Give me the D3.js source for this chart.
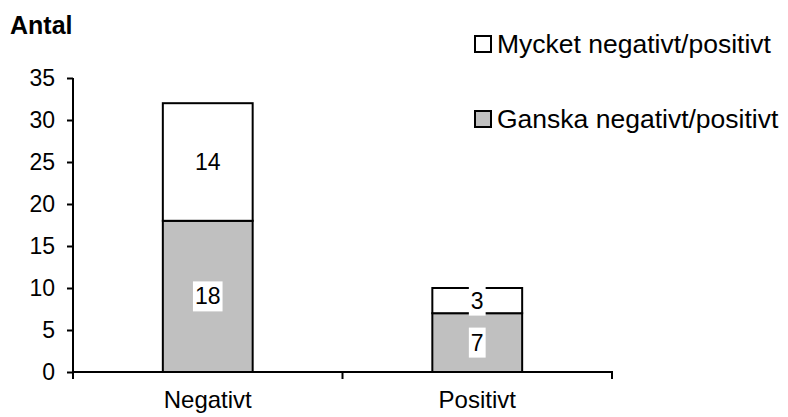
<!DOCTYPE html>
<html>
<head>
<meta charset="utf-8">
<script src="https://cdn.jsdelivr.net/npm/d3@7"></script>
<style>
  body { margin: 0; background: #fff; }
  text { font-family: "Liberation Sans", Arial, sans-serif; fill: #000; }
</style>
</head>
<body>
<div id="chart"></div>
<script>
// data
const categories = ["Negativt", "Positivt"];
const ganska = [18, 7];   // Ganska negativt/positivt
const mycket = [14, 3];   // Mycket negativt/positivt
const seriesNames = ["Mycket negativt/positivt", "Ganska negativt/positivt"];
const yTicks = [0, 5, 10, 15, 20, 25, 30, 35];

const W = 788, H = 417;
const fontSize = 23;

const svg = d3.select("#chart")
  .append("svg")
  .attr("width", W)
  .attr("height", H);

const x = d3.scaleBand()
  .domain(categories)
  .range([73, 612])
  .padding(0);

const y = d3.scaleLinear()
  .domain([0, 35])
  .range([372, 78]);

const bw = x.bandwidth() / 3;

// stacked bars
const rows = categories.map((c, i) => ({ cat: c, g: ganska[i], m: mycket[i] }));

const bars = svg.append("g");
rows.forEach(d => {
  const bx = x(d.cat) + x.bandwidth() / 2 - bw / 2;
  // lower segment
  bars.append("rect")
    .attr("x", bx)
    .attr("y", y(d.g))
    .attr("width", bw)
    .attr("height", y(0) - y(d.g))
    .attr("fill", "#c0c0c0")
    .attr("stroke", "#000")
    .attr("stroke-width", 2);
  // upper segment
  bars.append("rect")
    .attr("x", bx)
    .attr("y", y(d.g + d.m))
    .attr("width", bw)
    .attr("height", y(d.g) - y(d.g + d.m))
    .attr("fill", "#fff")
    .attr("stroke", "#000")
    .attr("stroke-width", 2);
});

// value labels with white boxes
function label(cx, cy, txt) {
  const g = svg.append("g");
  const t = g.append("text")
    .attr("x", cx)
    .attr("y", cy)
    .attr("text-anchor", "middle")
    .attr("dominant-baseline", "central")
    .style("font-size", fontSize + "px")
    .text(txt);
  const b = t.node().getBBox();
  g.insert("rect", "text")
    .attr("x", b.x - 2)
    .attr("y", cy - 15)
    .attr("width", b.width + 4)
    .attr("height", 30)
    .attr("fill", "#fff");
}
rows.forEach(d => {
  const cx = x(d.cat) + x.bandwidth() / 2;
  label(cx, (y(0) + y(d.g)) / 2, d.g);
  label(cx, (y(d.g) + y(d.g + d.m)) / 2, d.m);
});

// y axis
const yAxis = svg.append("g")
  .attr("transform", "translate(73,0)")
  .call(d3.axisLeft(y).tickValues(yTicks).tickSize(6).tickPadding(12));
yAxis.select(".domain").attr("stroke-width", 2).attr("d", `M0,${y(35)}V${y(0)}`);
yAxis.selectAll(".tick line").attr("stroke-width", 2);
yAxis.selectAll(".tick text")
  .style("font-size", fontSize + "px")
  .style("font-family", "Liberation Sans, Arial, sans-serif");

// x axis
const xAxis = svg.append("g");
xAxis.append("line")
  .attr("x1", 72).attr("x2", 613)
  .attr("y1", y(0)).attr("y2", y(0))
  .attr("stroke", "#000").attr("stroke-width", 2);
const edges = categories.map(c => x(c)).concat([x(categories[categories.length - 1]) + x.bandwidth()]);
xAxis.selectAll(".xt")
  .data(edges)
  .enter()
  .append("line")
  .attr("x1", d => d).attr("x2", d => d)
  .attr("y1", y(0)).attr("y2", y(0) + 7)
  .attr("stroke", "#000").attr("stroke-width", 2);
xAxis.selectAll(".xl")
  .data(categories)
  .enter()
  .append("text")
  .attr("x", d => x(d) + x.bandwidth() / 2)
  .attr("y", 408)
  .attr("text-anchor", "middle")
  .style("font-size", "24px")
  .text(d => d);

// axis title
svg.append("text")
  .attr("x", 10)
  .attr("y", 34)
  .style("font-size", "25px")
  .style("font-weight", "bold")
  .text("Antal");

// legend
const legendY = [44, 119];
const legendFill = ["#fff", "#c0c0c0"];
seriesNames.forEach((s, i) => {
  svg.append("rect")
    .attr("x", 475)
    .attr("y", legendY[i] - 8)
    .attr("width", 16)
    .attr("height", 16)
    .attr("fill", legendFill[i])
    .attr("stroke", "#000")
    .attr("stroke-width", 2);
  svg.append("text")
    .attr("x", 497)
    .attr("y", legendY[i])
    .attr("dominant-baseline", "central")
    .style("font-size", "26.5px")
    .text(s);
});
</script>
</body>
</html>
